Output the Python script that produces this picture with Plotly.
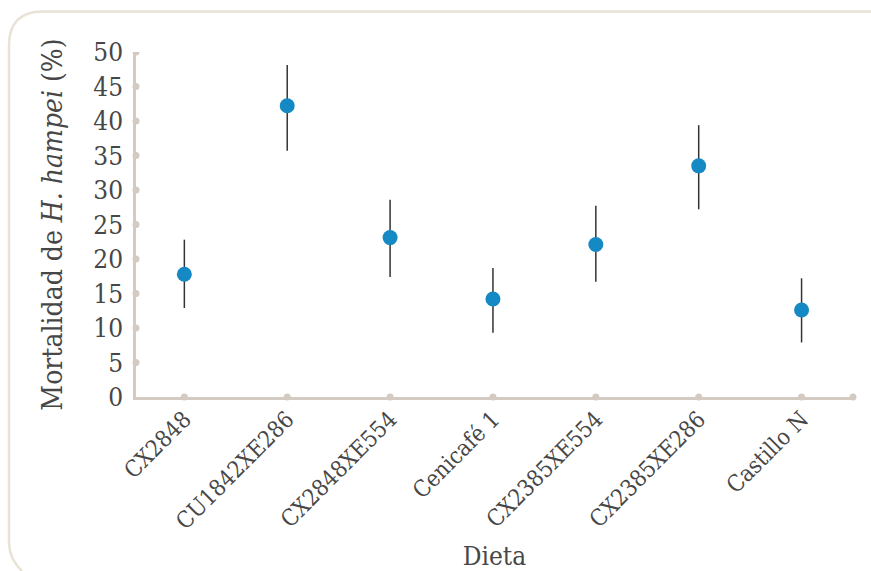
import plotly.graph_objects as go

categories = ["CX2848", "CU1842XE286", "CX2848XE554", "Cenicafé 1",
              "CX2385XE554", "CX2385XE286", "Castillo N"]
mortality = [17.8, 42.2, 23.1, 14.2, 22.1, 33.5, 12.6]
err_plus = [5.0, 5.9, 5.5, 4.5, 5.6, 5.9, 4.6]
err_minus = [4.9, 6.5, 5.7, 4.9, 5.4, 6.3, 4.7]
y_ticks = [0, 5, 10, 15, 20, 25, 30, 35, 40, 45, 50]

W, H = 871, 571
ML, MR, MT, MB = 136, 18, 52, 174
PW, PH = W - ML - MR, H - MT - MB

axis_col = "#d3cbc2"
frame_col = "#e9e2d6"
text_col = "#474747"
font_fam = "DejaVu Serif Condensed, DejaVu Serif, serif"

x_idx = list(range(len(categories)))

fig = go.Figure()
fig.add_trace(go.Scatter(
    x=x_idx, y=mortality, mode="markers",
    marker=dict(size=15, color="#1589c3", line=dict(width=0)),
    error_y=dict(type="data", symmetric=False, array=err_plus, arrayminus=err_minus,
                 color="#333333", thickness=1.5, width=0),
    cliponaxis=False, showlegend=False, hoverinfo="skip",
))

shapes = []
for v in y_ticks[1:]:
    shapes.append(dict(type="circle", xref="paper", yref="y", xsizemode="pixel", ysizemode="pixel",
                       xanchor=0, yanchor=v, x0=-3.5, x1=3.5, y0=-3.5, y1=3.5,
                       fillcolor=axis_col, line=dict(width=0), layer="above"))
for i in x_idx:
    shapes.append(dict(type="circle", xref="x", yref="paper", xsizemode="pixel", ysizemode="pixel",
                       xanchor=i, yanchor=0, x0=-3.5, x1=3.5, y0=-3.5, y1=3.5,
                       fillcolor=axis_col, line=dict(width=0), layer="above"))
shapes.append(dict(type="circle", xref="paper", yref="paper", xsizemode="pixel", ysizemode="pixel",
                   xanchor=1, yanchor=0, x0=-3.5, x1=3.5, y0=-3.5, y1=3.5,
                   fillcolor=axis_col, line=dict(width=0), layer="above"))

# rounded frame kept inside the figure (pixel coords -> paper coords)
def px(xp):
    return (xp - ML) / PW
def py(yp):
    return 1 - (yp - MT) / PH
L, T, R, r = 9, 11.5, W, 34
path = (f"M {px(R)},{py(T)} L {px(L + r)},{py(T)} Q {px(L)},{py(T)} {px(L)},{py(T + r)} "
        f"L {px(L)},{py(544)} Q {px(L + 1)},{py(560)} {px(L + 13)},{py(H)}")
shapes.append(dict(type="path", xref="paper", yref="paper", path=path,
                   line=dict(color=frame_col, width=2.5), layer="below"))

fig.update_layout(
    width=W, height=H,
    margin=dict(l=ML, r=MR, t=MT, b=MB, pad=0, autoexpand=False),
    paper_bgcolor="white", plot_bgcolor="white",
    font=dict(family=font_fam, color=text_col),
    shapes=shapes,
    hovermode=False,
    xaxis=dict(
        range=[-0.47, 6.5], tickmode="array", tickvals=x_idx, ticktext=categories,
        tickangle=-45, tickfont=dict(size=23, color=text_col),
        showline=True, linecolor=axis_col, linewidth=2.5, automargin=False,
        showgrid=False, zeroline=False, ticks="", ticklabelstandoff=-3,
        title=dict(text="Dieta", font=dict(size=26, color=text_col), standoff=16),
    ),
    yaxis=dict(
        range=[0, 50], tickmode="array", tickvals=y_ticks,
        tickfont=dict(size=26, color=text_col),
        showline=True, linecolor=axis_col, linewidth=2.5, automargin=False,
        showgrid=False, zeroline=False, ticks="", ticklabelstandoff=5,
        title=dict(text="Mortalidad de <i>H. hampei</i> (%)", font=dict(size=28, color=text_col), standoff=23),
    ),
)

fig.write_html(
    "out.html",
    config={"displayModeBar": False},
    post_script=("document.documentElement.style.margin='0';document.body.style.margin='0';"
                 "document.documentElement.style.overflow='hidden';document.body.style.overflow='hidden';"),
)
